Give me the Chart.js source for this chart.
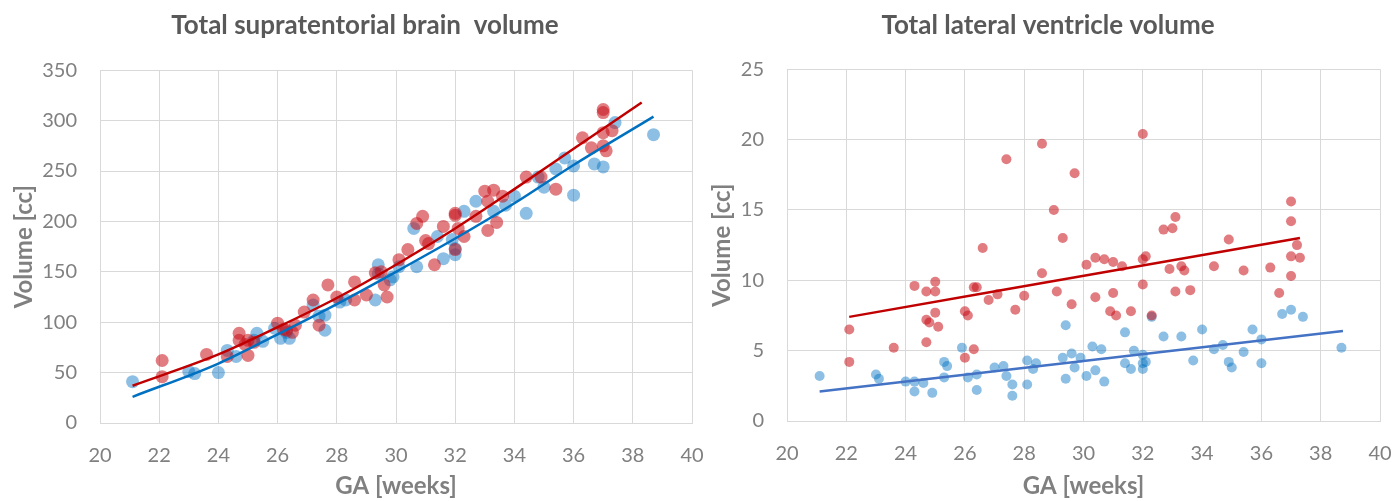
<!DOCTYPE html>
<html>
<head>
<meta charset="utf-8">
<script src="https://cdn.jsdelivr.net/npm/chart.js@4.4.1/dist/chart.umd.min.js"></script>
<style>
  html, body { margin: 0; padding: 0; background: #fff; }
  body { width: 1396px; height: 501px; position: relative; overflow: hidden; }
  canvas { position: absolute; top: 0; }
</style>
</head>
<body>
<canvas id="brainChart" width="730" height="501" style="left:0"></canvas>
<canvas id="ventChart" width="696" height="501" style="left:700px"></canvas>
<script>
// Total supratentorial brain volume (cc) vs GA (weeks)
const brainGaRed = [22.1, 22.1, 23.6, 24.3, 24.7, 24.7, 24.9, 25.0, 25.0, 25.2, 26.0, 26.2, 26.3, 26.5, 26.6, 26.9, 27.2, 27.4, 27.7, 28.0,
  28.6, 28.6, 29.0, 29.3, 29.5, 29.6, 29.7, 30.1, 30.4, 30.7, 30.9, 31.0, 31.1, 31.3, 31.6, 32.0, 32.0, 32.1, 32.0, 32.3,
  32.7, 33.0, 33.1, 33.1, 33.3, 33.4, 33.6, 34.4, 34.9, 35.4, 36.3, 36.6, 37.0, 37.0, 37.0, 37.0, 37.1, 37.3];
const brainVolRed = [62, 46, 68, 66, 89, 82, 78, 82, 67, 80, 99, 93, 92, 90, 97, 110, 122, 97, 137, 125,
  140, 122, 127, 149, 150, 137, 125, 162, 172, 198, 205, 181, 178, 157, 195, 208, 206, 193, 172, 185,
  205, 230, 220, 191, 231, 199, 225, 244, 244, 232, 283, 273, 311, 308, 288, 275, 270, 290];

const brainGaBlue = [21.1, 23.0, 23.2, 24.0, 24.3, 24.6, 25.2, 25.3, 25.5, 25.9, 26.1, 26.3, 26.4, 27.2, 27.4, 27.6, 27.6, 28.1, 28.3, 29.3,
  29.4, 29.4, 29.8, 29.9, 30.1, 30.6, 30.7, 31.4, 31.6, 31.9, 32.0, 32.0, 32.3, 32.7, 33.3, 33.7, 34.0, 34.4, 34.8, 35.0,
  35.4, 35.7, 36.0, 36.0, 36.7, 37.0, 37.4, 38.7];
const brainVolBlue = [41, 51, 49, 50, 72, 66, 82, 89, 81, 94, 84, 90, 84, 117, 106, 92, 107, 120, 122, 122,
  157, 148, 142, 145, 155, 193, 155, 185, 163, 182, 167, 173, 210, 220, 210, 216, 225, 208, 244, 234,
  252, 263, 226, 255, 257, 254, 298, 286];

// trend curves
const brainTrendGaRed = [21.1, 24, 26, 28, 30, 32, 34, 36, 38.3];
const brainTrendRed = [37, 68, 95, 124, 157, 193, 232, 272, 318];
const brainTrendGaBlue = [21.1, 24, 26, 28, 30, 32, 34, 36, 38.7];
const brainTrendBlue = [26, 59, 88, 118, 150, 183, 218, 256, 304];

// Total lateral ventricle volume (cc) vs GA (weeks)
const ventGaRed = [22.1, 22.1, 23.6, 24.3, 24.7, 24.7, 24.7, 24.8, 25.0, 25.0, 25.0, 25.1, 26.0, 26.0, 26.1, 26.3, 26.3, 26.4, 26.6, 26.8,
  27.1, 27.4, 27.7, 28.0, 28.6, 28.6, 29.0, 29.1, 29.3, 29.6, 29.7, 30.1, 30.4, 30.4, 30.7, 30.9, 31.0, 31.0, 31.1, 31.3,
  31.6, 32.0, 32.0, 32.0, 32.1, 32.3, 32.7, 32.9, 33.0, 33.1, 33.1, 33.3, 33.4, 33.6, 34.4, 34.9, 35.4, 36.3, 36.6, 37.0,
  37.0, 37.0, 37.0, 37.2, 37.3];
const ventVolRed = [6.5, 4.2, 5.2, 9.6, 9.2, 7.2, 5.6, 7.0, 9.9, 9.2, 7.7, 6.7, 7.8, 4.5, 7.5, 9.5, 5.1, 9.5, 12.3, 8.6,
  9.0, 18.6, 7.9, 8.9, 19.7, 10.5, 15.0, 9.2, 13.0, 8.3, 17.6, 11.1, 11.6, 8.8, 11.5, 7.8, 11.3, 9.1, 7.5, 11.0,
  7.8, 20.4, 11.5, 9.7, 11.7, 7.5, 13.6, 10.8, 13.7, 14.5, 9.2, 11.0, 10.7, 9.3, 11.0, 12.9, 10.7, 10.9, 9.1, 15.6,
  14.2, 11.7, 10.3, 12.5, 11.6];

const ventGaBlue = [21.1, 23.0, 23.1, 24.0, 24.3, 24.3, 24.6, 24.9, 25.3, 25.3, 25.4, 25.9, 26.1, 26.4, 26.4, 27.0, 27.3, 27.4, 27.6, 27.6,
  28.1, 28.1, 28.3, 28.4, 29.3, 29.4, 29.4, 29.6, 29.7, 29.9, 30.1, 30.3, 30.4, 30.6, 30.7, 31.4, 31.4, 31.6, 31.7, 32.0,
  32.0, 32.0, 32.1, 32.3, 32.7, 33.3, 33.7, 34.0, 34.4, 34.7, 34.9, 35.0, 35.4, 35.7, 36.0, 36.0, 36.7, 37.0, 37.4, 38.7];
const ventVolBlue = [3.2, 3.3, 3.0, 2.8, 2.8, 2.1, 2.7, 2.0, 4.2, 3.1, 3.9, 5.2, 3.1, 3.3, 2.2, 3.8, 3.9, 3.2, 2.6, 1.8,
  4.3, 2.6, 3.7, 4.1, 4.5, 6.8, 3.0, 4.8, 3.8, 4.5, 3.2, 5.3, 3.6, 5.1, 2.8, 6.3, 4.1, 3.7, 5.0, 4.7,
  4.1, 3.7, 4.2, 7.4, 6.0, 6.0, 4.3, 6.5, 5.1, 5.4, 4.2, 3.8, 4.9, 6.5, 5.8, 4.1, 7.6, 7.9, 7.4, 5.2];

const ventTrendGaRed = [22.1, 37.3];
const ventTrendRed = [7.4, 13.0];
const ventTrendGaBlue = [21.1, 38.75];
const ventTrendBlue = [2.1, 6.4];

const FONT = "Lato, 'Open Sans', sans-serif";
const dotRed = 'rgba(200, 16, 26, 0.55)';
const dotBlue = 'rgba(0, 112, 192, 0.45)';
const gridColor = '#d9d9d9';

function pts(xs, ys) {
  return xs.map((x, i) => ({ x: x, y: ys[i] }));
}

function buildChart(canvasId, opt) {
  const datasets = [
    {
      data: pts(opt.trendGaRed, opt.trendRed), showLine: true, pointRadius: 0,
      borderColor: '#c00000', borderWidth: 2.5, cubicInterpolationMode: 'monotone'
    },
    {
      data: pts(opt.trendGaBlue, opt.trendBlue), showLine: true, pointRadius: 0,
      borderColor: opt.lineBlue, borderWidth: 2.5, cubicInterpolationMode: 'monotone'
    },
    {
      data: pts(opt.gaRed, opt.volRed), pointRadius: opt.radius, borderWidth: 0,
      backgroundColor: dotRed, pointBackgroundColor: dotRed
    },
    {
      data: pts(opt.gaBlue, opt.volBlue), pointRadius: opt.radius, borderWidth: 0,
      backgroundColor: dotBlue, pointBackgroundColor: dotBlue
    }
  ];

  return new Chart(document.getElementById(canvasId), {
    type: 'scatter',
    data: { datasets: datasets },
    options: {
      responsive: false,
      animation: false,
      events: [],
      layout: { padding: 0 },
      plugins: {
        legend: { display: false },
        tooltip: { enabled: false },
        title: {
          display: true,
          text: opt.title,
          color: '#595959',
          font: { family: FONT, size: 26, weight: 'bold' },
          padding: { top: 10, bottom: opt.titleGap }
        }
      },
      scales: {
        x: {
          min: 20, max: 40,
          ticks: { stepSize: 2, color: '#808080', padding: 21, font: { family: FONT, size: 20 } },
          grid: { color: gridColor, drawTicks: false },
          border: { color: gridColor },
          title: {
            display: true, text: 'GA [weeks]', color: '#808080',
            font: { family: FONT, size: 24, weight: 'bold' }, padding: { top: 0, bottom: 0 }
          },
          afterFit: s => { s.height = opt.xHeight; s.paddingLeft = 0; s.paddingRight = 0; }
        },
        y: {
          min: 0, max: opt.yMax,
          ticks: { stepSize: opt.yStep, color: '#808080', padding: 23, font: { family: FONT, size: 20 } },
          grid: { color: gridColor, drawTicks: false },
          border: { color: gridColor },
          title: {
            display: true, text: 'Volume [cc]', color: '#808080',
            font: { family: FONT, size: 24, weight: 'bold' }, padding: { top: opt.yTitlePad, bottom: 0 }
          },
          afterFit: s => { s.width = opt.yWidth; }
        },
        pad: {
          type: 'linear', position: 'right', display: true,
          grid: { display: false }, ticks: { display: false }, border: { display: false },
          afterFit: s => { s.width = opt.rightPad; }
        }
      }
    }
  });
}

buildChart('brainChart', {
  title: 'Total supratentorial brain  volume',
  gaRed: brainGaRed, volRed: brainVolRed, gaBlue: brainGaBlue, volBlue: brainVolBlue,
  trendGaRed: brainTrendGaRed, trendRed: brainTrendRed,
  trendGaBlue: brainTrendGaBlue, trendBlue: brainTrendBlue,
  lineBlue: '#0070c0', radius: 6.5,
  yMax: 350, yStep: 50,
  titleGap: 29, xHeight: 78, yWidth: 100, rightPad: 38, yTitlePad: 10
});

buildChart('ventChart', {
  title: 'Total lateral ventricle volume',
  gaRed: ventGaRed, volRed: ventVolRed, gaBlue: ventGaBlue, volBlue: ventVolBlue,
  trendGaRed: ventTrendGaRed, trendRed: ventTrendRed,
  trendGaBlue: ventTrendGaBlue, trendBlue: ventTrendBlue,
  lineBlue: '#4472c4', radius: 5,
  yMax: 25, yStep: 5,
  titleGap: 28, xHeight: 80, yWidth: 87, rightPad: 16, yTitlePad: 8
});
</script>
</body>
</html>
